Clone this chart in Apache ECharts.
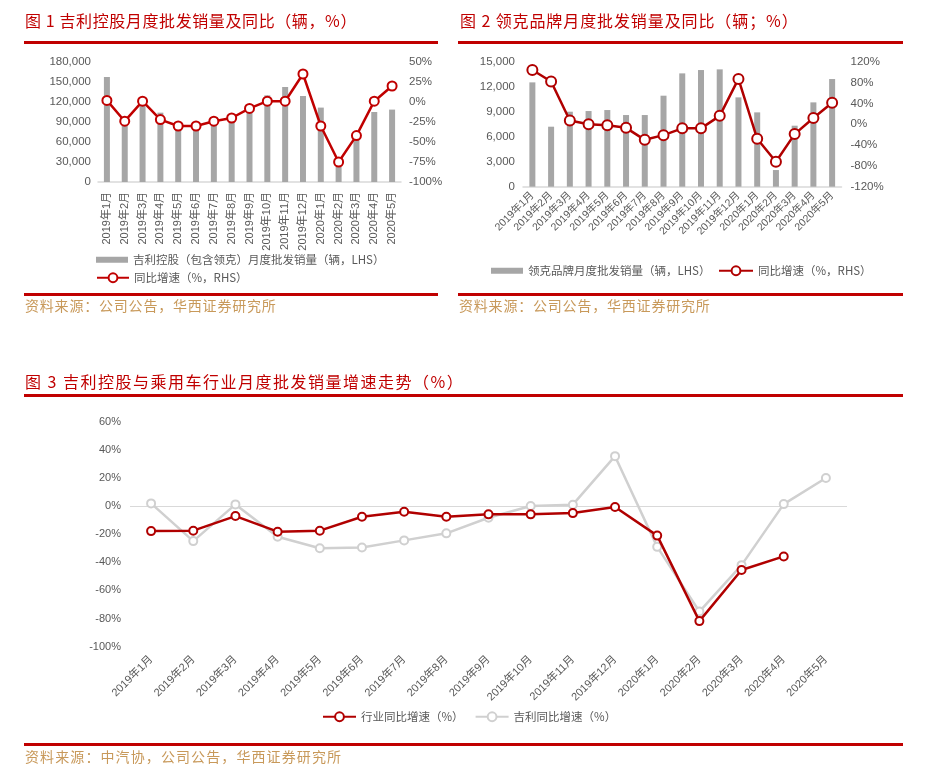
<!DOCTYPE html>
<html><head><meta charset="utf-8">
<script src="https://cdn.jsdelivr.net/npm/echarts@6/dist/echarts.min.js"></script>
<style>
html,body{margin:0;padding:0;background:#fff;}
#wrap{position:relative;width:927px;height:776px;overflow:hidden;}
#chart{position:absolute;left:0;top:0;width:927px;height:776px;}
.t{position:absolute;font-family:"Noto Sans CJK SC",sans-serif;font-size:16px;color:#c00000;white-space:nowrap;line-height:20px;}
.r{position:absolute;height:3px;background:#c00000;}
.s{position:absolute;font-family:"Noto Sans CJK SC",sans-serif;font-size:14px;color:#c8995a;white-space:nowrap;line-height:18px;}
</style></head>
<body><div id="wrap">
<div id="chart"></div>
<div class="t" style="left:25px;top:10px;letter-spacing:0.6px;">图 1 吉利控股月度批发销量及同比（辆，%）</div>
<div class="r" style="left:24px;top:41px;width:414px;"></div>
<div class="t" style="left:460px;top:10px;letter-spacing:0.9px;">图 2 领克品牌月度批发销量及同比（辆；%）</div>
<div class="r" style="left:458px;top:41px;width:445px;"></div>
<div class="r" style="left:24px;top:293px;width:414px;"></div>
<div class="r" style="left:458px;top:293px;width:445px;"></div>
<div class="s" style="left:25px;top:296px;letter-spacing:0.8px;">资料来源：公司公告，华西证券研究所</div>
<div class="s" style="left:459px;top:296px;letter-spacing:0.8px;">资料来源：公司公告，华西证券研究所</div>
<div class="t" style="left:25px;top:371px;letter-spacing:1.5px;">图 3 吉利控股与乘用车行业月度批发销量增速走势（%）</div>
<div class="r" style="left:24px;top:394px;width:879px;"></div>
<div class="r" style="left:24px;top:743px;width:879px;"></div>
<div class="s" style="left:25px;top:747px;letter-spacing:1.1px;">资料来源：中汽协，公司公告，华西证券研究所</div>
</div>
<script>
var categories = ['2019年1月','2019年2月','2019年3月','2019年4月','2019年5月','2019年6月','2019年7月','2019年8月','2019年9月','2019年10月','2019年11月','2019年12月','2020年1月','2020年2月','2020年3月','2020年4月','2020年5月'];

// Chart 1: 吉利控股
var geelySales = [157500, 88000, 118000, 104000, 85000, 87000, 92000, 92000, 105000, 130000, 142500, 129000, 111600, 22500, 65000, 105000, 108600];
var geelyYoY = [2, -24, 1, -22, -30, -30, -24, -20, -8, 1, 1, 35, -30, -75, -42, 1, 20];

// Chart 2: 领克
var lynkSales = [12520, 7200, 9000, 9080, 9200, 8600, 8600, 10920, 13600, 14000, 14080, 10720, 8920, 2000, 7320, 10120, 12920];
var lynkYoY = [104, 82, 7, 0, -2, -7, -30, -21, -8, -8, 16, 87, -28, -72, -19, 12, 41];

// Chart 3: 行业 vs 吉利
var industryYoY = [-17.8, -17.5, -7.1, -18.2, -17.5, -7.6, -4.0, -7.6, -5.9, -5.9, -5.0, -0.7, -21, -81.8, -45.5, -35.8, null];
var geelyYoY3 = [1.9, -24.9, 1.2, -21.8, -30, -29.4, -24.4, -19.4, -8.3, 0, 1, 35.5, -29, -75, -42, 1.4, 20];

var FONT = 'Liberation Sans, Arial, Noto Sans CJK SC, sans-serif';
var LBL = '#595959';
var RED = '#c00000';
var RED3 = '#b00000';
var GRAYLINE = '#d0d0d0';
var BAR = '#a6a6a6';

function commaFmt(v){ return Number(v).toLocaleString('en-US'); }
function pctFmt(v){ return v + '%'; }

var yBase = function(gi, opt){
  return Object.assign({
    type:'value', gridIndex:gi,
    splitLine:{show:false}, axisLine:{show:false}, axisTick:{show:false},
    axisLabel:{color:LBL, fontSize:11.5, fontFamily:FONT}
  }, opt);
};

var option = {
  animation:false,
  textStyle:{fontFamily:FONT},
  grid:[
    {left:98, top:62, width:303, height:120},
    {left:523, top:61.7, width:318.5, height:125},
    {left:130, top:421.7, width:717, height:225}
  ],
  xAxis:[
    {type:'category', gridIndex:0, data:categories, boundaryGap:true,
     axisLine:{lineStyle:{color:'#d9d9d9', width:1.5}}, axisTick:{show:false},
     axisLabel:{rotate:90, interval:0, color:LBL, fontSize:11, margin:10, fontFamily:FONT}},
    {type:'category', gridIndex:1, data:categories, boundaryGap:true,
     axisLine:{lineStyle:{color:'#d9d9d9', width:1.5}}, axisTick:{show:false},
     axisLabel:{rotate:45, interval:0, color:LBL, fontSize:10.5, margin:7, fontFamily:FONT}},
    {type:'category', gridIndex:2, data:categories, boundaryGap:true,
     axisLine:{show:false}, axisTick:{show:false},
     axisLabel:{rotate:45, interval:0, color:LBL, fontSize:11, margin:11, fontFamily:FONT}}
  ],
  yAxis:[
    yBase(0, {min:0, max:180000, interval:30000, position:'left', axisLabel:{color:LBL, fontSize:11.5, fontFamily:FONT, margin:7, formatter:commaFmt}}),
    yBase(0, {min:-100, max:50, interval:25, position:'right', axisLabel:{color:LBL, fontSize:11.5, fontFamily:FONT, margin:8, formatter:pctFmt}}),
    yBase(1, {min:0, max:15000, interval:3000, position:'left', axisLabel:{color:LBL, fontSize:11.5, fontFamily:FONT, margin:8, formatter:commaFmt}}),
    yBase(1, {min:-120, max:120, interval:40, position:'right', axisLabel:{color:LBL, fontSize:11.5, fontFamily:FONT, margin:9, formatter:pctFmt}}),
    yBase(2, {min:-100, max:60, interval:20, position:'left', axisLabel:{color:LBL, fontSize:11, fontFamily:FONT, margin:9, formatter:pctFmt}})
  ],
  legend:[
    {data:[{name:'吉利控股（包含领克）月度批发销量（辆，LHS）', icon:'rect'}], left:96, top:254, padding:0, itemWidth:32, itemHeight:6,
     textStyle:{color:LBL, fontSize:11.5, fontFamily:'Noto Sans CJK SC, Liberation Sans'}},
    {data:['同比增速（%，RHS）'], left:96, top:272, padding:0, itemWidth:32, itemHeight:11,
     textStyle:{color:LBL, fontSize:11.5, fontFamily:'Noto Sans CJK SC, Liberation Sans'}},
    {data:[{name:'领克品牌月度批发销量（辆，LHS）', icon:'rect'}], left:491, top:265, padding:0, itemWidth:32, itemHeight:6,
     textStyle:{color:LBL, fontSize:11.5, fontFamily:'Noto Sans CJK SC, Liberation Sans'}},
    {data:['同比增速（%，RHS） '], left:718, top:265, padding:0, itemWidth:34, itemHeight:11,
     textStyle:{color:LBL, fontSize:11.5, fontFamily:'Noto Sans CJK SC, Liberation Sans'}},
    {data:['行业同比增速（%）','吉利同比增速（%）'], left:322, top:711, padding:0, itemWidth:33, itemHeight:11, itemGap:11,
     textStyle:{color:LBL, fontSize:11.5, fontFamily:'Noto Sans CJK SC, Liberation Sans'}}
  ],
  series:[
    {name:'吉利控股（包含领克）月度批发销量（辆，LHS）', type:'bar', xAxisIndex:0, yAxisIndex:0, data:geelySales,
     barWidth:6, itemStyle:{color:BAR}},
    {name:'同比增速（%，RHS）', type:'line', xAxisIndex:0, yAxisIndex:1, data:geelyYoY,
     symbol:'emptyCircle', symbolSize:9, lineStyle:{color:RED, width:2.5},
     itemStyle:{color:RED, borderColor:RED, borderWidth:2}},
    {name:'领克品牌月度批发销量（辆，LHS）', type:'bar', xAxisIndex:1, yAxisIndex:2, data:lynkSales,
     barWidth:6, itemStyle:{color:BAR}},
    {name:'同比增速（%，RHS） ', type:'line', xAxisIndex:1, yAxisIndex:3, data:lynkYoY,
     symbol:'emptyCircle', symbolSize:10, lineStyle:{color:RED3, width:2.5},
     itemStyle:{color:RED3, borderColor:RED3, borderWidth:2}},
    {name:'吉利同比增速（%）', type:'line', xAxisIndex:2, yAxisIndex:4, data:geelyYoY3, z:2,
     symbol:'emptyCircle', symbolSize:8, lineStyle:{color:GRAYLINE, width:2.5},
     itemStyle:{color:GRAYLINE, borderColor:GRAYLINE, borderWidth:2},
     markLine:{silent:true, symbol:['none','none'], label:{show:false}, z:1,
       lineStyle:{color:'#d9d9d9', width:1, type:'solid'}, data:[{yAxis:0}]}},
    {name:'行业同比增速（%）', type:'line', xAxisIndex:2, yAxisIndex:4, data:industryYoY, z:3,
     symbol:'emptyCircle', symbolSize:8, lineStyle:{color:RED3, width:2.5},
     itemStyle:{color:RED3, borderColor:RED3, borderWidth:2}}
  ]
};
var chart = echarts.init(document.getElementById('chart'), null, {renderer:'canvas'});
chart.setOption(option);
</script>
</body></html>
